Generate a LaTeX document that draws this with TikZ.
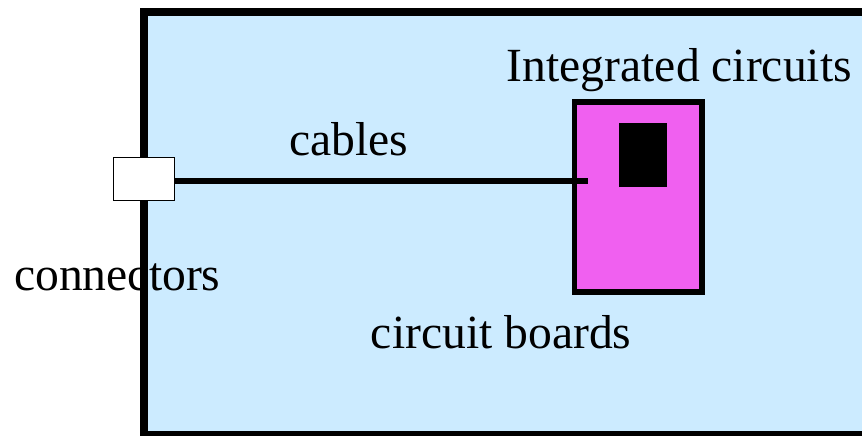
\documentclass[tikz,border=0pt]{standalone}
\usepackage{fontspec}
\setmainfont{Liberation Serif}
\definecolor{boardblue}{RGB}{204,235,255}
\definecolor{chippink}{RGB}{240,96,240}
\begin{document}
\begin{tikzpicture}[x=1pt,y=-1pt,
  label/.style={anchor=base west,inner sep=0pt,font=\fontsize{47.6}{57}\selectfont},
  chipbox/.style={draw=black,line width=5.5pt,fill=chippink,inner sep=0pt,
    minimum width=127.7pt,minimum height=190.4pt},
  die/.style={fill=black,inner sep=0pt,minimum width=48pt,minimum height=64pt},
  connbox/.style={draw=black,line width=1.5pt,fill=white,inner sep=0pt,
    minimum width=61pt,minimum height=43pt},
  cable/.style={line width=6.3pt}]
\useasboundingbox (0,0) rectangle (862,436);
\begin{scope}
\clip (0,0) rectangle (862,436);
% circuit board fill
\fill[boardblue] (144,12) rectangle (900,435);
% connector label sits beneath the board edge
\node[label] (lconn) at (14,290.7) {connectors};
% circuit board outline (right side runs off the page)
\draw[line width=8pt] (900,12) -- (144,12) -- (144,435) -- (900,435);
\end{scope}
% integrated circuit package and its die
\node[chipbox] (chip) at (638.35,197) {};
\node[die] (die) at (643,155) {};
% edge connector
\node[connbox] (conn) at (144,179) {};
% cable from connector to the chip
\coordinate (cableend) at (588,181);
\draw[cable] (conn.east |- cableend) -- (cableend);
% labels
\node[label] (lic) at (506.7,81.7) {Integrated circuits};
\node[label] (lcab) at (289,155) {cables};
\node[label] (lboard) at (370.7,348.3) {circuit boards};
\end{tikzpicture}
\end{document}
